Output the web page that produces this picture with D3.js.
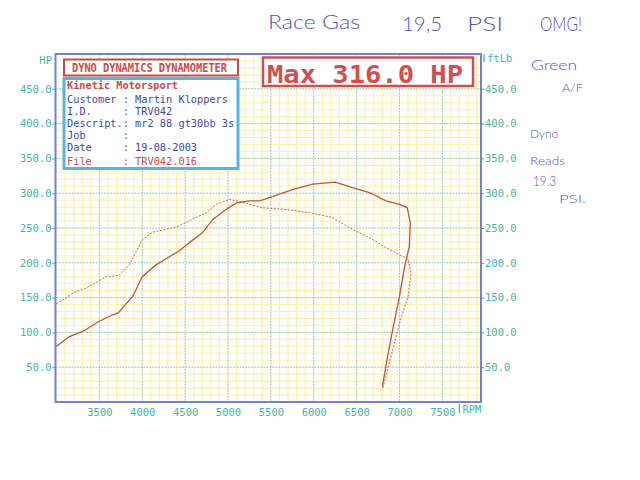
<!DOCTYPE html>
<html>
<head>
<meta charset="utf-8">
<script src="https://cdn.jsdelivr.net/npm/d3@7"></script>
<style>
  html, body { margin: 0; padding: 0; background: #ffffff; }
  svg { display: block; }
</style>
</head>
<body>
<svg id="chart" width="640" height="480"></svg>
<script>
// ---- data ----
const powerRpm = [3000,3150,3300,3500,3650,3720,3890,4000,4160,4320,4430,4550,4700,4820,4980,5100,5250,5370,5520,5750,5990,6250,6450,6650,6840,7000,7090,7125,7115,7060,7000,6920,6860,6800];
const powerHp  = [80,94,101,116,125,128,152,180,197,209,217,229,243,262,277,286,289,289,295,305,313,316,308,301,289,284,279,258,224,195,152,104,65,22];
const torqueRpm = [3000,3230,3350,3580,3730,3850,4000,4120,4350,4430,4590,4750,4860,5020,5170,5400,5640,5950,6220,6450,6650,6840,7040,7100,7135,7100,7000,6900,6800];
const torqueFtLb = [141,159,164,180,182,197,233,244,250,253,263,272,284,291,287,279,277,272,265,248,236,222,209,205,185,152,113,65,17];
const rpmTicks = [3500,4000,4500,5000,5500,6000,6500,7000,7500];
const valueTicks = [50,100,150,200,250,300,350,400,450];
const infoLines = [
  "Customer : Martin Kloppers",
  "I.D.     : TRV042",
  "Descript.: mr2 88 gt30bb 3s",
  "Job      :",
  "Date     : 19-08-2003"
];
const fileLine = "File     : TRV042.016";
const titleText = "DYNO DYNAMICS DYNAMOMETER";
const shopText = "Kinetic Motorsport";
const maxText = "Max 316.0 HP";

// ---- scales ----
const svg = d3.select("#chart");
const x = d3.scaleLinear().domain([3000, 7950]).range([56.5, 481]);
const y = d3.scaleLinear().domain([0, 500]).range([402, 54]);
const x0 = x.range()[0], x1 = x.range()[1], y0 = y.range()[0], y1 = y.range()[1];

// ---- grid ----
const grid = svg.append("g");
const minorX = d3.range(3100, 7950, 100);
const minorY = d3.range(10, 500, 10);
grid.selectAll(".mx").data(minorX).enter().append("line")
  .attr("x1", d => x(d)).attr("x2", d => x(d)).attr("y1", y1).attr("y2", y0)
  .attr("stroke", "#f8f2ac").attr("stroke-width", 1.1);
grid.selectAll(".my").data(minorY).enter().append("line")
  .attr("x1", x0).attr("x2", x1).attr("y1", d => y(d)).attr("y2", d => y(d))
  .attr("stroke", "#f8f2ac").attr("stroke-width", 1.1);
grid.selectAll(".Mx").data(rpmTicks).enter().append("line")
  .attr("x1", d => x(d)).attr("x2", d => x(d)).attr("y1", y1).attr("y2", y0)
  .attr("stroke", "#86c6e6").attr("stroke-width", 1).attr("stroke-dasharray", "1.5,1.5");
grid.selectAll(".My").data(valueTicks).enter().append("line")
  .attr("x1", x0).attr("x2", x1).attr("y1", d => y(d)).attr("y2", d => y(d))
  .attr("stroke", "#86c6e6").attr("stroke-width", 1).attr("stroke-dasharray", "1.5,1.5");

// ---- frame ----
svg.append("rect").attr("x", x0 - 1).attr("y", y1).attr("width", x1 - x0 + 1).attr("height", y0 - y1)
  .attr("fill", "none").attr("stroke", "#7482c6").attr("stroke-width", 2);

// ---- axis labels ----
const labelFont = "'DejaVu Sans Mono', 'Liberation Mono', monospace";
const teal = "#3fb5a2";
const axisL = svg.append("g").attr("transform", `translate(${x0 - 1},0)`)
  .call(d3.axisLeft(y).tickValues(valueTicks).tickSize(3).tickPadding(1).tickFormat(d3.format(".1f")));
const axisR = svg.append("g").attr("transform", `translate(${x1},0)`)
  .call(d3.axisRight(y).tickValues(valueTicks).tickSize(3).tickPadding(1).tickFormat(d3.format(".1f")));
const axisB = svg.append("g").attr("transform", `translate(0,${y0})`)
  .call(d3.axisBottom(x).tickValues(rpmTicks).tickSize(0).tickPadding(5).tickFormat(d3.format("d")));
[axisL, axisR, axisB].forEach(a => {
  a.select(".domain").remove();
  a.selectAll("line").attr("stroke", "#7482c6");
  a.selectAll("text").attr("fill", teal).attr("font-family", labelFont).attr("font-size", 10.5);
});
axisB.selectAll("text").attr("dy", "0.9em");

svg.append("text").attr("x", 52).attr("y", 64).attr("text-anchor", "end")
  .attr("fill", teal).attr("font-family", labelFont).attr("font-size", 10.5).text("HP");
svg.append("line").attr("x1", x1 + 3).attr("x2", x1 + 3).attr("y1", 54).attr("y2", 62).attr("stroke", teal).attr("stroke-width", 1.3);
svg.append("text").attr("x", x1 + 6).attr("y", 62)
  .attr("fill", teal).attr("font-family", labelFont).attr("font-size", 10.5).text("ftLb");
svg.append("line").attr("x1", x(7500) + 17).attr("x2", x(7500) + 17).attr("y1", 404).attr("y2", 413).attr("stroke", teal).attr("stroke-width", 1.3);
svg.append("text").attr("x", x(7500) + 20).attr("y", 413)
  .attr("fill", teal).attr("font-family", labelFont).attr("font-size", 10.5).text("RPM");

// ---- curves ----
const line = d3.line().x(d => x(d[0])).y(d => y(d[1]));
svg.append("path").datum(d3.zip(torqueRpm, torqueFtLb)).attr("d", line)
  .attr("fill", "none").attr("stroke", "#d8604e").attr("stroke-width", 1).attr("stroke-dasharray", "2,1.5");
svg.append("path").datum(d3.zip(powerRpm, powerHp)).attr("d", line)
  .attr("fill", "none").attr("stroke", "#c4503e").attr("stroke-width", 1.3);

// ---- header boxes ----
const red = "#c84a4a", navy = "#3c4aa0";
svg.append("rect").attr("x", 64).attr("y", 59.5).attr("width", 174).attr("height", 16)
  .attr("fill", "#ffffff").attr("stroke", red).attr("stroke-width", 2);
svg.append("text").attr("transform", "translate(72,71.5) scale(1,1.12)")
  .attr("fill", red).attr("font-family", labelFont).attr("font-size", 10.3).attr("font-weight", "bold")
  .attr("textLength", 155).attr("lengthAdjust", "spacingAndGlyphs").text(titleText);

svg.append("rect").attr("x", 64).attr("y", 78.5).attr("width", 174).attr("height", 90)
  .attr("fill", "#ffffff").attr("stroke", "#56b4e4").attr("stroke-width", 3);
svg.append("text").attr("transform", "translate(67,89) scale(1,1.08)")
  .attr("fill", red).attr("font-family", labelFont).attr("font-size", 10.3).attr("font-weight", "bold")
  .attr("textLength", 111).attr("lengthAdjust", "spacingAndGlyphs").text(shopText);
const lineYs = [103, 115, 127, 139, 151];
svg.selectAll(".info").data(infoLines).enter().append("text")
  .attr("transform", (d, i) => `translate(67,${lineYs[i]}) scale(1,1.08)`)
  .attr("fill", navy).attr("font-family", labelFont).attr("font-size", 10.3)
  .style("white-space", "pre").text(d => d);
svg.append("text").attr("transform", "translate(67,165) scale(1,1.08)")
  .attr("fill", red).attr("font-family", labelFont).attr("font-size", 10.3)
  .style("white-space", "pre").text(fileLine);

// ---- max box ----
svg.append("rect").attr("x", 263).attr("y", 57.5).attr("width", 210).attr("height", 28.5)
  .attr("fill", "#ffffff").attr("stroke", "#cc5050").attr("stroke-width", 2.5);
svg.append("text").attr("x", 267).attr("y", 82.5)
  .attr("fill", "#d05050").attr("font-family", labelFont).attr("font-size", 25).attr("font-weight", "bold")
  .attr("textLength", 196).attr("lengthAdjust", "spacingAndGlyphs").text(maxText);

// ---- handwritten notes ----
const ink = "#5252c4";
const notes = [
  {t: "Race Gas", x: 268, y: 29, s: 19, w: 92},
  {t: "19,5", x: 402, y: 31, s: 20, w: 40},
  {t: "PSI", x: 467, y: 31, s: 20, w: 36},
  {t: "OMG!", x: 540, y: 31, s: 20, w: 42},
  {t: "Green", x: 531, y: 70, s: 14, w: 46},
  {t: "A/F", x: 562, y: 92, s: 12, w: 21},
  {t: "Dyno", x: 530, y: 138, s: 12, w: 28},
  {t: "Reads", x: 530, y: 165, s: 12, w: 35},
  {t: "19.3", x: 533, y: 186, s: 14, w: 23},
  {t: "PSI.", x: 559, y: 203, s: 12, w: 27}
];
svg.selectAll(".note").data(notes).enter().append("text")
  .attr("x", d => d.x).attr("y", d => d.y)
  .attr("fill", ink).attr("font-family", "Lato, 'Open Sans', sans-serif").attr("font-weight", 300)
  .attr("font-size", d => d.s).attr("textLength", d => d.w).attr("lengthAdjust", "spacingAndGlyphs")
  .text(d => d.t);
</script>
</body>
</html>
